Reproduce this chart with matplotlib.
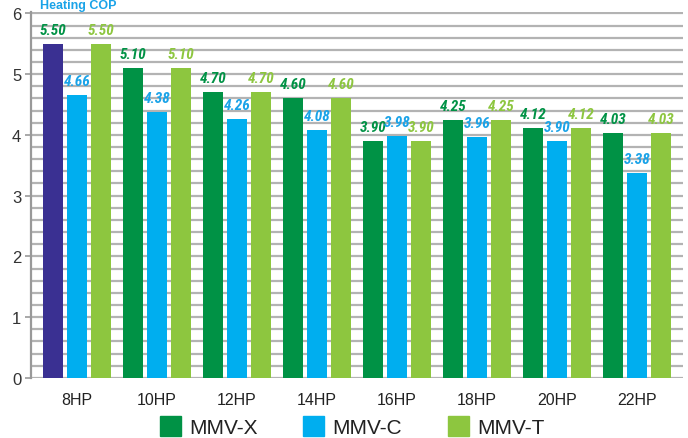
import matplotlib
matplotlib.use("Agg")
import matplotlib.pyplot as plt
from matplotlib import font_manager
from matplotlib.patches import Patch
import numpy as np

categories = ["8HP", "10HP", "12HP", "14HP", "16HP", "18HP", "20HP", "22HP"]
series_names = ["MMV-X", "MMV-C", "MMV-T"]
mmv_x = [5.50, 5.10, 4.70, 4.60, 3.90, 4.25, 4.12, 4.03]
mmv_c = [4.66, 4.38, 4.26, 4.08, 3.98, 3.96, 3.90, 3.38]
mmv_t = [5.50, 5.10, 4.70, 4.60, 3.90, 4.25, 4.12, 4.03]
title = "Heating COP"

c_x = "#009245"
c_c = "#00aeef"
c_t = "#8dc63f"
c_first = "#3a3092"
lbl_x = "#009245"
lbl_c = "#1aa3e8"
lbl_t = "#8dc63f"

plt.rcParams['font.family'] = ['Liberation Sans', 'DejaVu Sans']
available = {f.name for f in font_manager.fontManager.ttflist}
narrow_name = None
for cand in ['Liberation Sans Narrow', 'Arial Narrow', 'Roboto Condensed',
             'Open Sans Condensed', 'DejaVu Sans Condensed']:
    if cand in available:
        narrow_name = cand
        break
if narrow_name:
    narrow = [narrow_name, 'DejaVu Sans']
    lbl_size = 11
else:
    narrow = ['Roboto', 'Liberation Sans', 'DejaVu Sans']
    lbl_size = 9.5

fig = plt.figure(figsize=(6.88, 4.39), dpi=100)
ax = fig.add_axes([0.045, 0.137, 0.948, 0.833])

x = np.arange(len(categories))
w = 0.25
off = 0.30
colors_x = [c_first] + [c_x] * (len(categories) - 1)
bx = ax.bar(x - off, mmv_x, w, color=colors_x, zorder=3)
bc = ax.bar(x, mmv_c, w, color=c_c, zorder=3)
bt = ax.bar(x + off, mmv_t, w, color=c_t, zorder=3)

for bars, vals, col in [(bx, mmv_x, lbl_x), (bc, mmv_c, lbl_c), (bt, mmv_t, lbl_t)]:
    for b, v in zip(bars, vals):
        ax.annotate(f"{v:.2f}", (b.get_x() + b.get_width() / 2, v),
                    xytext=(0, 5), textcoords="offset points",
                    ha="center", va="bottom", fontsize=lbl_size, color=col,
                    fontweight="bold", fontstyle="italic", family=narrow)

ax.set_xlim(-0.575, 7.575)
ax.set_ylim(0, 6.02)
ax.set_yticks(range(7))
ax.set_yticks(np.arange(0, 6.01, 0.2), minor=True)
ax.grid(axis="y", which="both", color="#b3b3b3", linewidth=1.6, zorder=0)
ax.tick_params(axis="y", which="minor", length=0)
ax.tick_params(axis="y", which="major", length=4, width=1.2, color="#999999",
               labelsize=12, labelcolor="#333333", pad=3)
ax.set_xticks(x)
ax.set_xticklabels(categories)
ax.tick_params(axis="x", length=0, labelsize=11.5, labelcolor="#222222", pad=10)
for s in ["top", "right", "bottom"]:
    ax.spines[s].set_visible(False)
ax.spines["left"].set_color("#999999")
ax.spines["left"].set_linewidth(1.6)

handles = [Patch(color=c_x), Patch(color=c_c), Patch(color=c_t)]
fig.legend(handles, series_names, loc="center", bbox_to_anchor=(0.512, 0.027),
           ncol=3, frameon=False, fontsize=15, handlelength=1.0, handleheight=1.1,
           columnspacing=2.2, handletextpad=0.4, labelcolor="#222222",
           borderpad=0, borderaxespad=0)

fig.text(0.058, 0.999, title, color="#1aa3e8", fontsize=9, fontweight="bold",
         ha="left", va="top")

fig.savefig("out.png", dpi=100)
